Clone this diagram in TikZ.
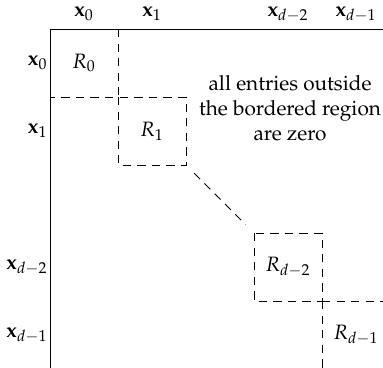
\documentclass[tikz,border=0pt]{standalone}
\usepackage[T1]{fontenc}
\usepackage{mathpazo}
\usepackage{amsmath,amssymb}
\usetikzlibrary{positioning}

\begin{document}
\begin{tikzpicture}[x=1.15cm,y=1.15cm,
    blk/.style={dash pattern=on 4pt off 3pt},
    lab/.style={inner sep=1pt}]
        \useasboundingbox (-0.735,0.426) rectangle (4.897,-4.985);
        \clip (-0.735,0.426) rectangle (4.897,-4.985);
        % Rand der Matrix
        \draw (0,-5.2) -- (0,0) -- (5.2,0);
        % Spaltenbeschriftung
        \node[lab] (c0) at (0.5,0.22) {$\mathbf{x}_0$};
        \node[lab] (c1) at (1.5,0.22) {$\mathbf{x}_1$};
        \node[lab] (c2) at (3.5,0.22) {$\mathbf{x}_{d-2}$};
        \node[lab] (c3) at (4.5,0.22) {$\mathbf{x}_{d-1}$};
        % Zeilenbeschriftung
        \node[lab, anchor=east] (r0) at (0,-0.5) {$\mathbf{x}_0$};
        \node[lab, anchor=east] (r1) at (0,-1.5) {$\mathbf{x}_1$};
        \node[lab, anchor=east] (r2) at (0,-3.5) {$\mathbf{x}_{d-2}$};
        \node[lab, anchor=east] (r3) at (0,-4.5) {$\mathbf{x}_{d-1}$};
        % Bloecke
        \draw[blk] (1,0) -- (1,-1) -- (0,-1);
        \draw[blk] (1,-1) rectangle (2,-2);
        \draw[blk] (2.12,-2.12) -- (2.88,-2.88);
        \draw[blk] (3,-3) rectangle (4,-4);
        \draw[blk] (4,-4) -- (5.2,-4);
        \draw[blk] (4,-4) -- (4,-5.2);
        \node (R0) at (0.5,-0.5) {$R_0$};
        \node (R1) at (1.5,-1.5) {$R_1$};
        \node (R2) at (3.5,-3.5) {$R_{d-2}$};
        \node (R3) at (4.5,-4.5) {$R_{d-1}$};
        % Hinweis
        \node[align=center] (note) at (3.53,-1.17) {all entries outside\\the bordered region\\are zero};
      \end{tikzpicture}
\end{document}
